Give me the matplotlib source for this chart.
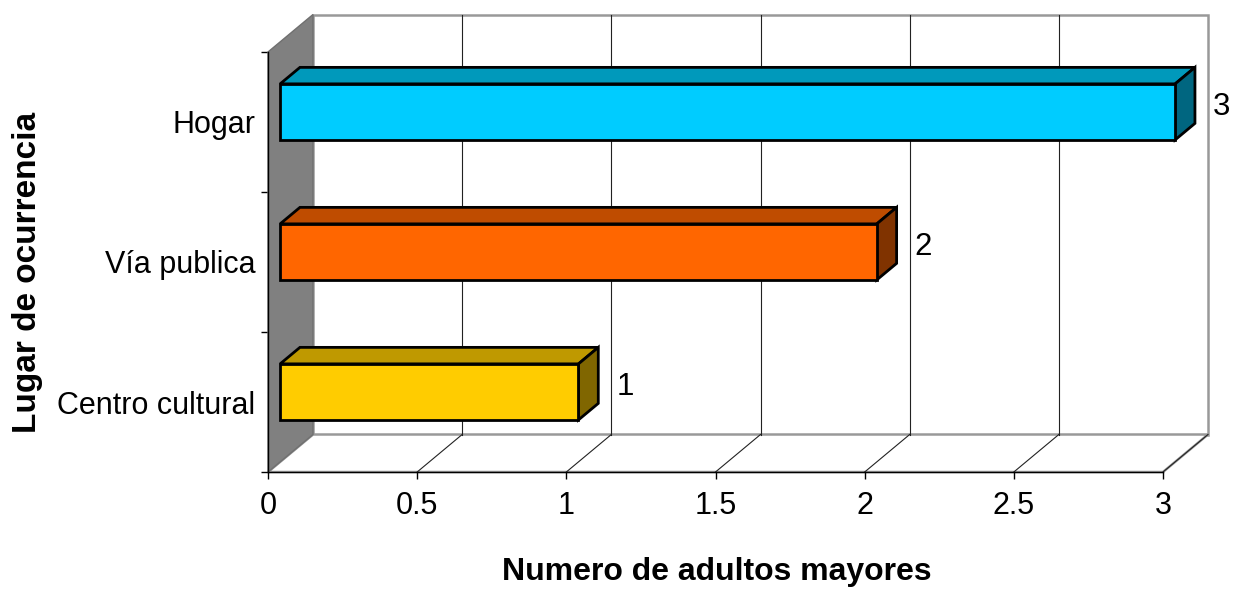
import matplotlib
matplotlib.use("Agg")
import matplotlib.pyplot as plt
from matplotlib.patches import Polygon

plt.rcParams['font.family'] = ['Liberation Sans', 'DejaVu Sans']

categories = ["Centro cultural", "Vía publica", "Hogar"]
values = [1, 2, 3]
front_colors = ["#FFCC00", "#FF6600", "#00CCFF"]
top_colors = ["#BF9900", "#BF4C00", "#0099BB"]
side_colors = ["#806600", "#803300", "#006680"]
x_ticks = [0, 0.5, 1, 1.5, 2, 2.5, 3]
x_ticklabels = ["0", "0.5", "1", "1.5", "2", "2.5", "3"]
xlabel = "Numero de adultos mayores"
ylabel = "Lugar de ocurrencia"

W, H = 1234, 589
fig = plt.figure(figsize=(W / 100, H / 100), dpi=100)
fig.patch.set_facecolor("white")
ax = fig.add_axes([268 / W, (H - 472) / H, 895 / W, 420 / H])
XMAX = 3.0
YMAX = len(categories)
ax.set_xlim(0, XMAX)
ax.set_ylim(0, YMAX)
ax.set_facecolor("none")

# depth offsets in data units
DX = 45 / 895 * XMAX
DY = 37.5 / 420 * YMAX
D1, D2 = 0.27, 0.71
BAR_H = 0.4

# back wall
ax.add_patch(Polygon([(DX, DY), (XMAX + DX, DY), (XMAX + DX, YMAX + DY), (DX, YMAX + DY)],
                     closed=True, facecolor="white", edgecolor="#999999", lw=1.8,
                     clip_on=False, zorder=1))
# floor
ax.add_patch(Polygon([(0, 0), (XMAX, 0), (XMAX + DX, DY), (DX, DY)],
                     closed=True, facecolor="white", edgecolor="#999999", lw=1.8,
                     clip_on=False, zorder=1))
# left wall
ax.add_patch(Polygon([(0, 0), (0, YMAX), (DX, YMAX + DY), (DX, DY)],
                     closed=True, facecolor="#808080", edgecolor="#707070", lw=1.0,
                     clip_on=False, zorder=2))

# gridlines on back wall and floor
for v in x_ticks[1:-1]:
    ax.plot([v + DX, v + DX], [DY, YMAX + DY], color="#222222", lw=0.8,
            clip_on=False, zorder=2)
for v in x_ticks[1:]:
    ax.plot([v, v + DX], [0, DY], color="#222222", lw=0.8, clip_on=False, zorder=2)

# bars
for i, (val, fc, tc, sc) in enumerate(zip(values, front_colors, top_colors, side_colors)):
    yc = i + 0.5
    y0 = yc - BAR_H / 2 + D1 * DY
    y1 = yc + BAR_H / 2 + D1 * DY
    x0 = D1 * DX
    x1 = val + D1 * DX
    ddx = (D2 - D1) * DX
    ddy = (D2 - D1) * DY
    ax.add_patch(Polygon([(x0, y1), (x1, y1), (x1 + ddx, y1 + ddy), (x0 + ddx, y1 + ddy)],
                         closed=True, facecolor=tc, edgecolor="black", lw=2.0,
                         joinstyle="miter", clip_on=False, zorder=5))
    ax.add_patch(Polygon([(x1, y0), (x1 + ddx, y0 + ddy), (x1 + ddx, y1 + ddy), (x1, y1)],
                         closed=True, facecolor=sc, edgecolor="black", lw=2.0,
                         joinstyle="miter", clip_on=False, zorder=5))
    ax.add_patch(Polygon([(x0, y0), (x1, y0), (x1, y1), (x0, y1)],
                         closed=True, facecolor=fc, edgecolor="black", lw=2.0,
                         joinstyle="miter", clip_on=False, zorder=6))
    ax.annotate(str(val), xy=(x1 + ddx, yc + D2 * DY * 0.55),
                xytext=(13, 0), textcoords="offset points",
                ha="left", va="center", fontsize=22.5, color="black",
                annotation_clip=False, zorder=7)

# axes / ticks
for s in ["top", "right"]:
    ax.spines[s].set_visible(False)
ax.spines["left"].set_color("black")
ax.spines["bottom"].set_color("black")
ax.spines["left"].set_linewidth(1.0)
ax.spines["bottom"].set_linewidth(1.0)
ax.spines["left"].set_zorder(3)
ax.spines["bottom"].set_zorder(3)

ax.set_xticks(x_ticks)
ax.set_xticklabels(x_ticklabels, fontsize=22)
ax.tick_params(axis="x", length=5, width=1.0, color="black", pad=9, direction="out")

ax.set_yticks(range(YMAX + 1))
ax.set_yticklabels([""] * (YMAX + 1))
ax.set_yticks([i + 0.5 for i in range(YMAX)], minor=True)
ax.set_yticklabels(categories, minor=True, fontsize=22)
ax.tick_params(axis="y", which="major", length=5, width=1.0, color="black")
ax.tick_params(axis="y", which="minor", length=0, pad=9)

fig.text(717 / W, 1 - 572 / H, xlabel, ha="center", va="center",
         fontsize=23, fontweight="bold")
fig.text(28 / W, 1 - 272 / H, ylabel, ha="center", va="center",
         fontsize=24, fontweight="bold", rotation=90)

fig.savefig("out.png", dpi=100, facecolor="white")
